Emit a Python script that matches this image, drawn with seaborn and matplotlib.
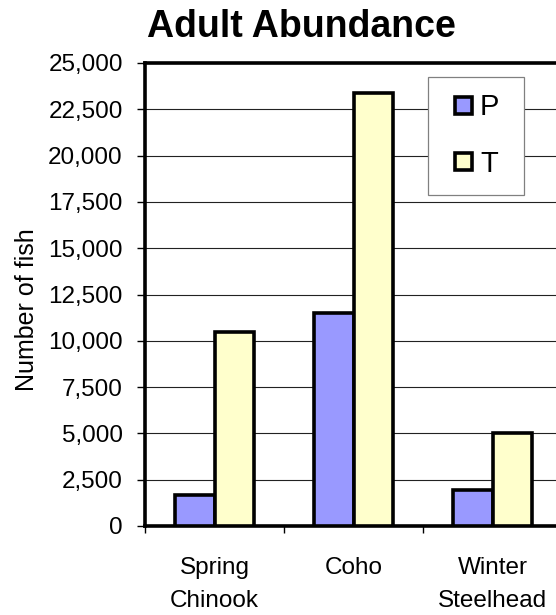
import matplotlib
matplotlib.use("Agg")
import matplotlib.pyplot as plt
from matplotlib.patches import Rectangle
from matplotlib.legend_handler import HandlerPatch
from matplotlib.ticker import FuncFormatter
import pandas as pd
import seaborn as sns

# Adult abundance by run and scenario
species = ["Spring\nChinook", "Coho", "Winter\nSteelhead"]
groups = ["P", "T"]
p_counts = [1650, 11500, 1950]
t_counts = [10500, 23400, 5000]
y_ticks = [0, 2500, 5000, 7500, 10000, 12500, 15000, 17500, 20000, 22500, 25000]
colors = {"P": "#9999FF", "T": "#FFFFCC"}

df = pd.DataFrame({
    "species": species * 2,
    "group": ["P"] * len(species) + ["T"] * len(species),
    "count": p_counts + t_counts,
})

sns.set_theme(style="white")
plt.rcParams["font.family"] = ["Liberation Sans", "DejaVu Sans"]

W, H = 556, 615
fig = plt.figure(figsize=(W / 100, H / 100), dpi=100)
fig.patch.set_facecolor("white")

# plot area: left spine at x=145, zero line at y=526, top at y=63
ax = fig.add_axes([145 / W, (H - 526) / H, 417 / W, 463 / H])
ax.set_facecolor("white")

sns.barplot(
    data=df, x="species", y="count", hue="group", hue_order=groups,
    order=species, palette=colors, saturation=1, width=0.57,
    edgecolor="black", linewidth=2.6, ax=ax, zorder=3,
)

ax.set_xlim(-0.5, 2.5)
ax.set_ylim(0, 25000)

# y axis
ax.set_yticks(y_ticks)
ax.yaxis.set_major_formatter(FuncFormatter(lambda v, _: f"{int(v):,}"))
ax.tick_params(axis="y", which="major", direction="out", length=6, width=1,
               color="black", pad=10, labelsize=17.5, labelcolor="black", left=True)
ax.yaxis.grid(True, color="#222222", linewidth=0.8)
ax.xaxis.grid(False)
ax.set_axisbelow(True)

# x axis: ticks at category boundaries, labels centred on groups
ax.set_xticks([-0.5, 0.5, 1.5, 2.5])
ax.set_xticklabels([])
ax.set_xticks([0, 1, 2], minor=True)
ax.set_xticklabels(species, minor=True, linespacing=1.65)
ax.tick_params(axis="x", which="major", direction="out", length=5, width=1,
               color="black", bottom=True)
ax.tick_params(axis="x", which="minor", length=0, pad=22, labelsize=17.5,
               labelcolor="black", bottom=True)

for side in ["left", "top", "bottom"]:
    ax.spines[side].set_visible(True)
    ax.spines[side].set_color("black")
    ax.spines[side].set_linewidth(2.6)
ax.spines["right"].set_visible(False)

ax.set_xlabel("")
ax.set_ylabel("Number of fish", fontsize=18, color="black")
ax.yaxis.set_label_coords((27 - 145) / 417, (526 - 310) / 463)
ax.yaxis.label.set_verticalalignment("center")

fig.text(301.5 / W, 1 - 37 / H, "Adult Abundance", ha="center", va="baseline",
         fontsize=27, fontweight="bold", color="black")


# legend with square swatches sitting at the right of the handle box
def square_patch(legend, orig_handle, xdescent, ydescent, width, height, fontsize):
    side = 17 * 72 / 100
    return Rectangle((-xdescent + width - side, -ydescent + (height - side) / 2),
                     side, side)


handles, labels = ax.get_legend_handles_labels()
old = ax.get_legend()
if old is not None:
    old.remove()
leg = ax.legend(
    handles, labels, loc="upper left", mode="expand",
    bbox_to_anchor=(428 / W, 1 - 191 / H, 96 / W, 114 / H),
    bbox_transform=fig.transFigure,
    borderaxespad=0, fontsize=21, frameon=True, fancybox=False, framealpha=1,
    edgecolor="#808080", facecolor="white", handlelength=0.95, handleheight=0.62,
    handletextpad=0.27, borderpad=0.56, labelspacing=0.99,
    handler_map={h: HandlerPatch(patch_func=square_patch) for h in handles},
)
leg.get_frame().set_linewidth(0.9)
leg.set_zorder(5)
for t in leg.get_texts():
    t.set_color("black")

fig.savefig("out.png", dpi=100, facecolor="white")
